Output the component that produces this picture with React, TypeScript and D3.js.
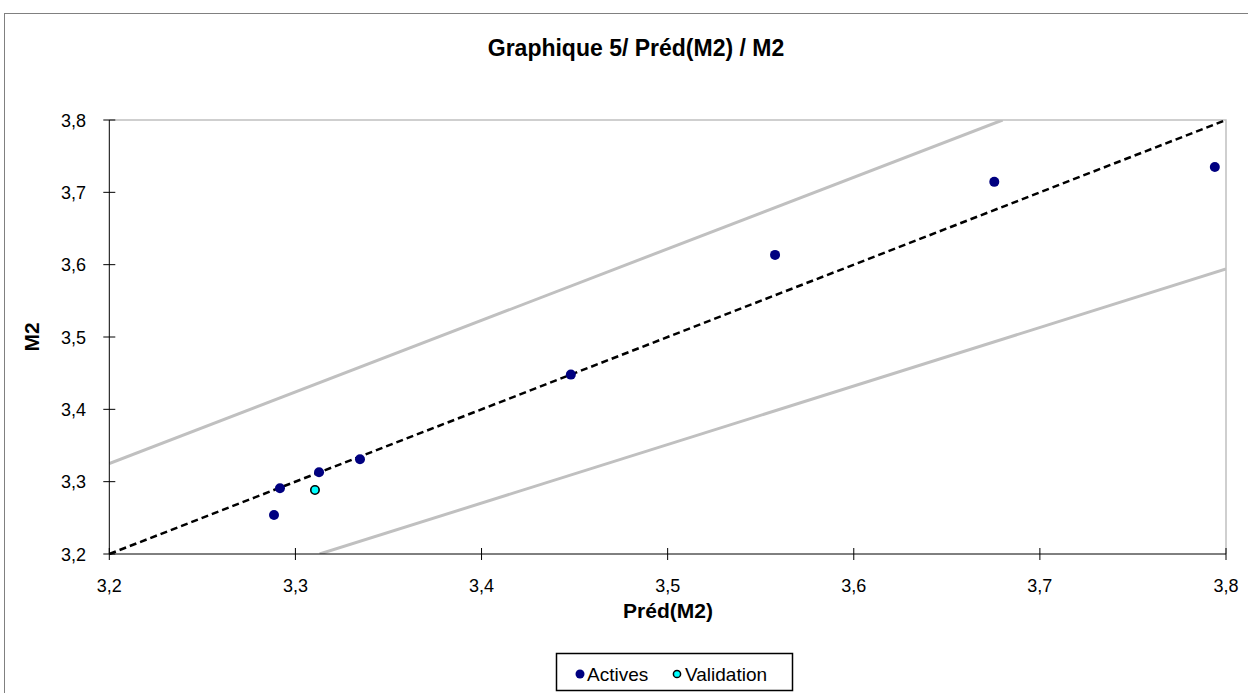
import React, { useEffect, useRef } from "react";
import * as d3 from "d3";

const activesPred = [3.2885, 3.2917, 3.3127, 3.3347, 3.448, 3.5577, 3.6755, 3.794];
const activesM2 = [3.254, 3.291, 3.313, 3.331, 3.448, 3.6135, 3.7145, 3.735];
const validationPred = [3.3105];
const validationM2 = [3.2885];
const tickValues = [3.2, 3.3, 3.4, 3.5, 3.6, 3.7, 3.8];
// bissectrice and the two limit lines, as [pred, m2] pairs
const idealLine = [[3.2, 3.2], [3.8, 3.8]];
const upperLine = [[3.2, 3.325], [3.68, 3.8]];
const lowerLine = [[3.313, 3.2], [3.8, 3.594]];

const FONT = "Liberation Sans, Arial, sans-serif";

export default function App() {
    const ref = useRef<SVGSVGElement | null>(null);

    useEffect(() => {
        const svg = d3.select(ref.current);
        svg.selectAll("*").remove();

        const plot = { left: 109.3, right: 1226, top: 120, bottom: 554 };
        const x = d3.scaleLinear().domain([3.2, 3.8]).range([plot.left, plot.right]);
        const y = d3.scaleLinear().domain([3.2, 3.8]).range([plot.bottom, plot.top]);
        const fmt = (d: number) => d3.format(".1f")(d).replace(".", ",");

        // outer frame (cut off at right and bottom)
        svg.append("rect")
            .attr("x", 4.5).attr("y", 13.5)
            .attr("width", 1260).attr("height", 700)
            .attr("fill", "white").attr("stroke", "#808080").attr("stroke-width", 1);

        svg.append("text")
            .attr("x", 636).attr("y", 56)
            .attr("text-anchor", "middle")
            .attr("font-family", FONT).attr("font-weight", "bold").attr("font-size", 23)
            .text("Graphique 5/ Préd(M2) / M2");

        // plot area border (top & right grey)
        svg.append("path")
            .attr("d", `M${plot.left},${plot.top}H${plot.right}V${plot.bottom}`)
            .attr("fill", "none").attr("stroke", "#c0c0c0").attr("stroke-width", 1.5);

        const clip = svg.append("defs").append("clipPath").attr("id", "plotclip");
        clip.append("rect")
            .attr("x", plot.left).attr("y", plot.top)
            .attr("width", plot.right - plot.left).attr("height", plot.bottom - plot.top);

        const line = d3.line<number[]>().x(d => x(d[0])).y(d => y(d[1]));
        const g = svg.append("g").attr("clip-path", "url(#plotclip)");

        [upperLine, lowerLine].forEach(l => {
            g.append("path")
                .attr("d", line(l))
                .attr("fill", "none").attr("stroke", "#c0c0c0").attr("stroke-width", 3);
        });

        svg.append("path")
            .attr("d", line(idealLine))
            .attr("fill", "none").attr("stroke", "black")
            .attr("stroke-width", 2.5).attr("stroke-dasharray", "7,4");

        // axes
        const yAxis = svg.append("g");
        yAxis.append("line")
            .attr("x1", plot.left).attr("x2", plot.left)
            .attr("y1", plot.top).attr("y2", plot.bottom)
            .attr("stroke", "black");
        tickValues.forEach(t => {
            yAxis.append("line")
                .attr("x1", plot.left - 6).attr("x2", plot.left + 6)
                .attr("y1", y(t)).attr("y2", y(t))
                .attr("stroke", "black");
            yAxis.append("text")
                .attr("x", 86).attr("y", y(t) + 6.5)
                .attr("text-anchor", "end")
                .attr("font-family", FONT).attr("font-size", 18)
                .text(fmt(t));
        });

        const xAxis = svg.append("g");
        xAxis.append("line")
            .attr("x1", plot.left).attr("x2", plot.right)
            .attr("y1", plot.bottom).attr("y2", plot.bottom)
            .attr("stroke", "black");
        tickValues.forEach(t => {
            xAxis.append("line")
                .attr("x1", x(t)).attr("x2", x(t))
                .attr("y1", plot.bottom - 6).attr("y2", plot.bottom + 6)
                .attr("stroke", "black");
            xAxis.append("text")
                .attr("x", x(t)).attr("y", 592)
                .attr("text-anchor", "middle")
                .attr("font-family", FONT).attr("font-size", 18)
                .text(fmt(t));
        });

        svg.append("text")
            .attr("x", 668).attr("y", 618)
            .attr("text-anchor", "middle")
            .attr("font-family", FONT).attr("font-weight", "bold").attr("font-size", 21)
            .text("Préd(M2)");

        svg.append("text")
            .attr("transform", `translate(39,${(plot.top + plot.bottom) / 2}) rotate(-90)`)
            .attr("text-anchor", "middle")
            .attr("font-family", FONT).attr("font-weight", "bold").attr("font-size", 21)
            .text("M2");

        // points
        svg.selectAll(".actives")
            .data(activesPred.map((p, i) => [p, activesM2[i]]))
            .enter().append("circle")
            .attr("cx", d => x(d[0])).attr("cy", d => y(d[1]))
            .attr("r", 5).attr("fill", "#000080");

        svg.selectAll(".validation")
            .data(validationPred.map((p, i) => [p, validationM2[i]]))
            .enter().append("circle")
            .attr("cx", d => x(d[0])).attr("cy", d => y(d[1]))
            .attr("r", 4.2).attr("fill", "#00ffff")
            .attr("stroke", "black").attr("stroke-width", 1.6);

        // legend
        const lg = svg.append("g");
        lg.append("rect")
            .attr("x", 556.5).attr("y", 653.5).attr("width", 236).attr("height", 37)
            .attr("fill", "white").attr("stroke", "black").attr("stroke-width", 1.5);
        lg.append("circle").attr("cx", 580).attr("cy", 674).attr("r", 4.5).attr("fill", "#000080");
        lg.append("text").attr("x", 587).attr("y", 681)
            .attr("font-family", FONT).attr("font-size", 19).text("Actives");
        lg.append("circle").attr("cx", 677).attr("cy", 674).attr("r", 3.6)
            .attr("fill", "#00ffff").attr("stroke", "black").attr("stroke-width", 1.5);
        lg.append("text").attr("x", 685).attr("y", 681)
            .attr("font-family", FONT).attr("font-size", 19).text("Validation");
    }, []);

    return <svg ref={ref} width={1248} height={693}
                style={{ position: "absolute", left: 0, top: 0, display: "block" }} />;
}
